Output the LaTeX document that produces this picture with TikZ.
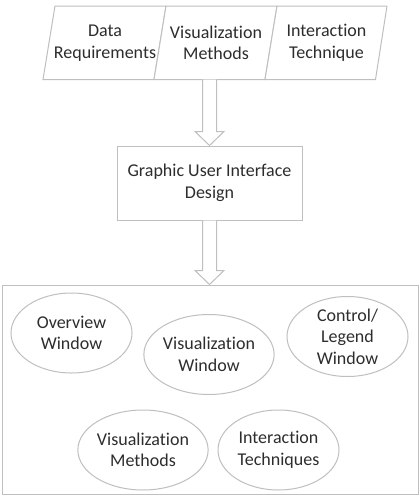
\documentclass[tikz,border=0pt]{standalone}
\usepackage{fontspec}
\setmainfont[Ligatures={NoCommon}]{Carlito}
\usetikzlibrary{shapes.geometric,calc}
\definecolor{lin}{RGB}{191,191,191}
\definecolor{txt}{RGB}{45,45,45}
\tikzset{
  shp/.style={draw=lin,line width=1pt,fill=white},
  lbl/.style={text=txt,align=center,font=\fontsize{18}{21.5}\selectfont,inner sep=0pt},
  oval/.style={shp,ellipse,minimum width=121pt,minimum height=80pt,inner sep=0pt,text=txt,align=center,font=\fontsize{18}{21.5}\selectfont},
  rbox/.style={shp,rectangle,inner sep=0pt,text=txt,align=center,font=\fontsize{18}{21.5}\selectfont},
  barrow/.style={draw=lin,line width=1pt,fill=white,line join=miter}
}
\newcommand\myblockarrow[2]{%
  \draw[barrow] let \p1=(#1), \p2=(#2) in
    (\x1-7pt,\y1) -- (\x1-7pt,\y2+14pt) -- (\x1-14.5pt,\y2+14pt) -- (\x2,\y2)
    -- (\x1+14.5pt,\y2+14pt) -- (\x1+7pt,\y2+14pt) -- (\x1+7pt,\y1);}
\begin{document}
\begin{tikzpicture}[x=1pt,y=-1pt]
\useasboundingbox (0,0) rectangle (420,504);
% top parallelograms
\coordinate (t0) at (55,6);   \coordinate (b0) at (43,79.5);
\coordinate (t1) at (166,6);  \coordinate (b1) at (154,79.5);
\coordinate (t2) at (277,6);  \coordinate (b2) at (265,79.5);
\coordinate (t3) at (387,6);  \coordinate (b3) at (375.5,79.5);
\draw[shp] (b0) -- (t0) -- (t1) -- (b1) -- cycle;
\draw[shp] (b1) -- (t1) -- (t2) -- (b2) -- cycle;
\draw[shp] (b2) -- (t2) -- (t3) -- (b3) -- cycle;
\node[lbl] (dr) at (105,43) {Data\\Requirements};
\node[lbl] (vm) at (216,43) {Visualization\\Methods};
\node[lbl] (it) at (326.5,43) {Interaction\\Technique};
\coordinate (topout) at (209.5,79.5);
% GUI box
\node[rbox,minimum width=185pt,minimum height=74pt] (gui) at (209.5,183) {Graphic User Interface\\Design};
% bottom container
\node[rbox,minimum width=416pt,minimum height=209pt] (cont) at (210,389.5) {};
% arrows
\myblockarrow{topout}{gui.north}
\myblockarrow{gui.south}{cont.north -| gui.south}
% ellipses
\node[oval] (ov) at (71.5,333) {Overview\\Window};
\node[oval] (vw) at (209,354.5) {Visualization\\Window};
\node[oval] (cl) at (347.5,336.5) {Control/\\Legend\\Window};
\node[oval] (vme) at (143,450) {Visualization\\Methods};
\node[oval] (itq) at (278.5,450) {Interaction\\Techniques};
\end{tikzpicture}
\end{document}
